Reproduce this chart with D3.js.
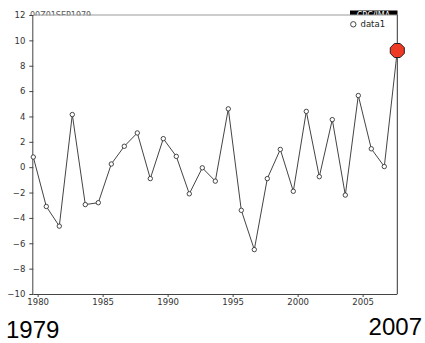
<!DOCTYPE html>
<html>
<head>
<meta charset="utf-8">
<script src="https://cdn.jsdelivr.net/npm/d3@7"></script>
<style>
  html, body { margin: 0; padding: 0; background: #fff; }
  svg { display: block; }
</style>
</head>
<body>
<script>
// September index, 1979–2007 (one value per year, plotted at Sep of each year)
const years = d3.range(1979, 2008);
const values = [
  0.8, -3.1, -4.65, 4.15, -2.95, -2.8, 0.25, 1.65, 2.7, -0.9,
  2.25, 0.85, -2.1, -0.05, -1.1, 4.6, -3.4, -6.5, -0.9, 1.4,
  -1.9, 4.4, -0.75, 3.75, -2.2, 5.65, 1.45, 0.05, 9.2
];
const yTicks = d3.range(-10, 13, 2);
const xTicks = [1980, 1985, 1990, 1995, 2000, 2005];
const seriesName = "data1";
const timeStamp = "00Z01SEP1979";
const sourceTag = "CPC/JMA";
const startLabel = "1979";
const endLabel = "2007";

const W = 425, H = 343;
const plotL = 33.3, plotR = 397.3, plotT = 15, plotB = 294;
const monthOffset = 8 / 12; // September

const data = years.map((yr, i) => ({ t: yr + monthOffset, v: values[i] }));

const x = d3.scaleLinear().domain([years[0] + monthOffset, years[years.length - 1] + monthOffset]).range([plotL, plotR]);
const y = d3.scaleLinear().domain([-10, 12]).range([plotB, plotT]);

const svg = d3.select("body").append("svg").attr("width", W).attr("height", H);

// header strip is only partly visible
const defs = svg.append("defs");
defs.append("clipPath").attr("id", "hdr")
  .append("rect").attr("x", 0).attr("y", 10.5).attr("width", W).attr("height", 5);

const hdr = svg.append("g").attr("clip-path", "url(#hdr)");
hdr.append("text").attr("x", 30).attr("y", 17.5)
  .attr("font-family", "DejaVu Sans, sans-serif").attr("font-size", 8)
  .attr("fill", "#555").text(timeStamp);
hdr.append("rect").attr("x", 350).attr("y", 8).attr("width", 47.5).attr("height", 7).attr("fill", "#000");
hdr.append("text").attr("x", 373.5).attr("y", 17.5).attr("text-anchor", "middle")
  .attr("font-family", "DejaVu Sans, sans-serif").attr("font-size", 8)
  .attr("fill", "#fff").text(sourceTag);

// frame
svg.append("line").attr("x1", plotL).attr("x2", plotR).attr("y1", plotT).attr("y2", plotT)
  .attr("stroke", "#999").attr("stroke-width", 1);
svg.append("line").attr("x1", plotR).attr("x2", plotR).attr("y1", plotT).attr("y2", plotB)
  .attr("stroke", "#333").attr("stroke-width", 1);

// axes
const yAxis = svg.append("g").attr("transform", `translate(${plotL},0)`)
  .call(d3.axisLeft(y).tickValues(yTicks).tickSize(4).tickPadding(4).tickFormat(d3.format("d")));
const xAxis = svg.append("g").attr("transform", `translate(0,${plotB})`)
  .call(d3.axisBottom(x).tickValues(xTicks).tickSize(3).tickPadding(2).tickFormat(d3.format("d")));

[yAxis, xAxis].forEach(g => {
  g.select(".domain").attr("stroke", "#444");
  g.selectAll(".tick line").attr("stroke", "#444");
  g.selectAll("text").attr("font-family", "DejaVu Sans, sans-serif")
    .attr("font-size", 8.5).attr("fill", "#333");
});
xAxis.select(".domain").attr("d", `M${plotL},0.5H${plotR}`);
yAxis.select(".domain").attr("d", `M-0.5,${plotB}V${plotT}`);

// series line and markers
const line = d3.line().x(d => x(d.t)).y(d => y(d.v));
svg.append("path").datum(data).attr("d", line)
  .attr("fill", "none").attr("stroke", "#444").attr("stroke-width", 1);

svg.append("g").selectAll("circle").data(data.slice(0, -1)).join("circle")
  .attr("cx", d => x(d.t)).attr("cy", d => y(d.v)).attr("r", 2.2)
  .attr("fill", "#fff").attr("stroke", "#333").attr("stroke-width", 0.9);

// highlighted latest value (octagon)
const last = data[data.length - 1];
const oct = d3.range(8).map(k => {
  const a = Math.PI / 8 + k * Math.PI / 4;
  return [x(last.t) + 7.6 * Math.cos(a), y(last.v) + 7.6 * Math.sin(a)];
});
svg.append("polygon").attr("points", oct.map(p => p.join(",")).join(" "))
  .attr("fill", "#ee3a22").attr("stroke", "#222").attr("stroke-width", 1);

// legend
svg.append("circle").attr("cx", 353.3).attr("cy", 24.3).attr("r", 2.7)
  .attr("fill", "#fff").attr("stroke", "#333").attr("stroke-width", 0.9);
svg.append("text").attr("x", 360.5).attr("y", 27.3)
  .attr("font-family", "DejaVu Sans, sans-serif").attr("font-size", 8.5)
  .attr("fill", "#222").text(seriesName);

// period labels
svg.append("text").attr("x", 6).attr("y", 338)
  .attr("font-family", "Liberation Sans, Arial, sans-serif").attr("font-size", 24)
  .attr("fill", "#000").text(startLabel);
svg.append("text").attr("x", 422).attr("y", 335).attr("text-anchor", "end")
  .attr("font-family", "Liberation Sans, Arial, sans-serif").attr("font-size", 24)
  .attr("fill", "#000").text(endLabel);
</script>
</body>
</html>
